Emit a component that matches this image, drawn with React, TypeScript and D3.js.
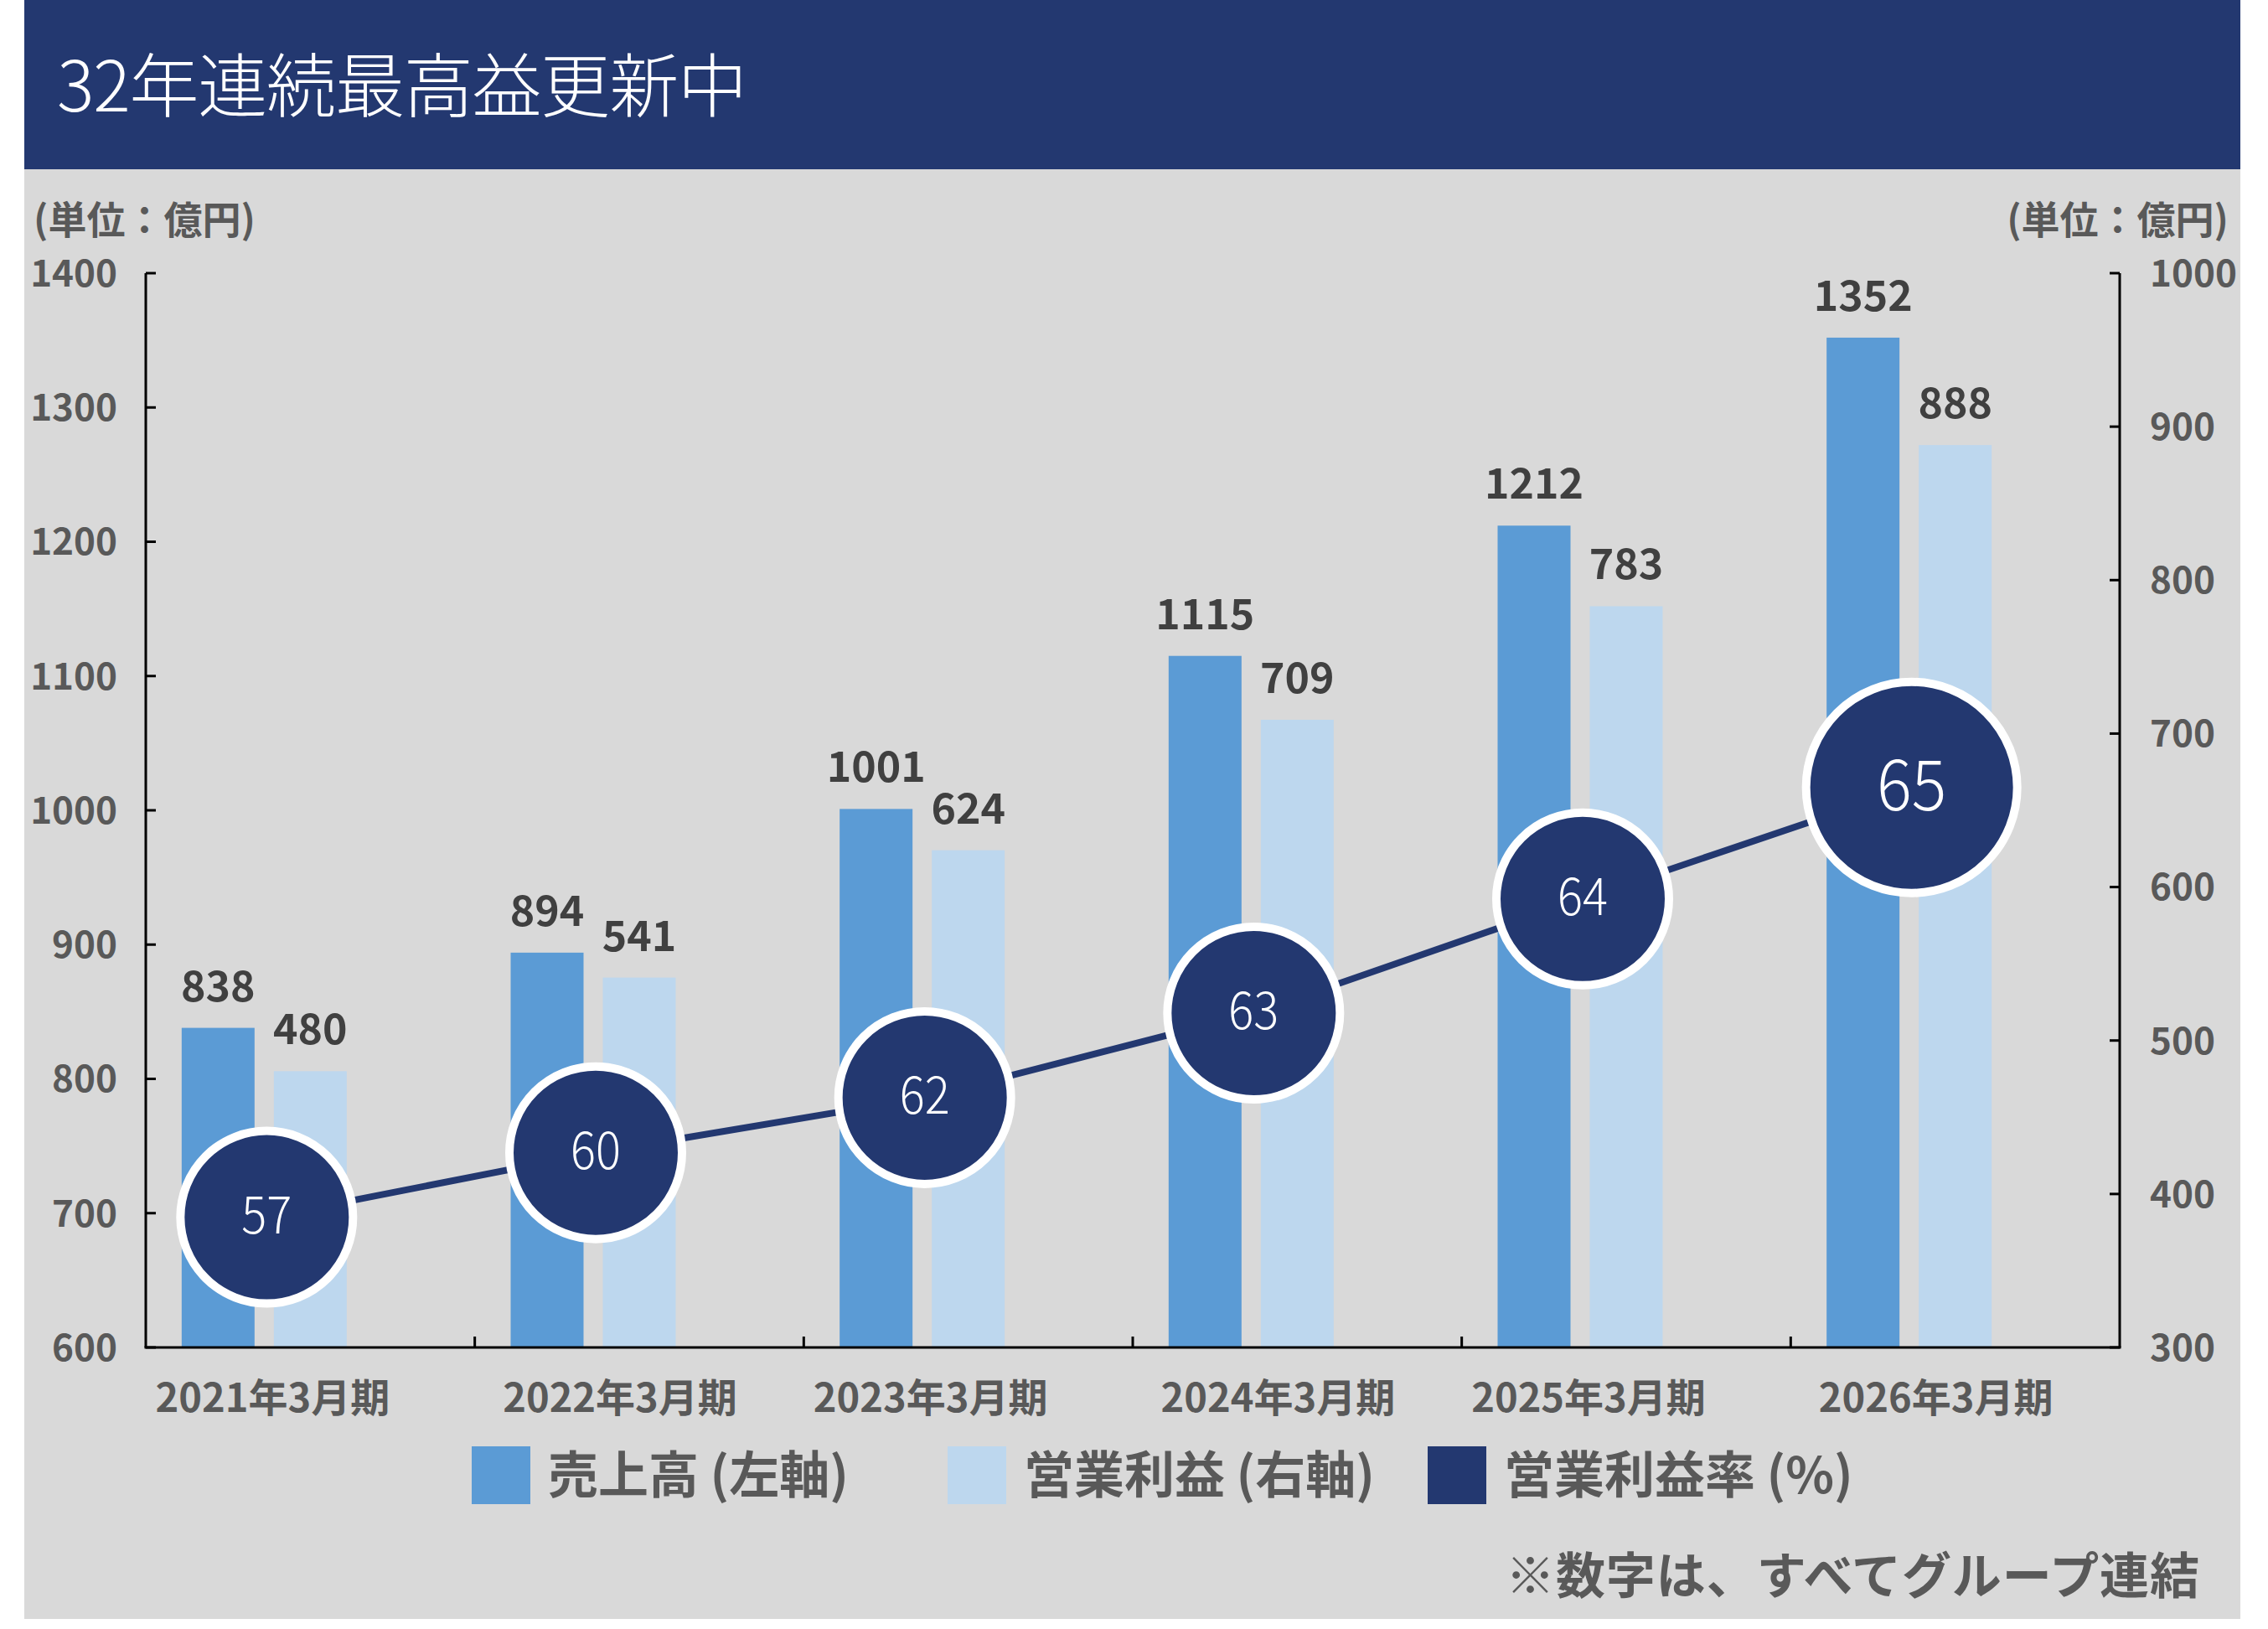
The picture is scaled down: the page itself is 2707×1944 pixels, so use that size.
import React from 'react';
import * as d3 from 'd3';

const categories = ['2021年3月期', '2022年3月期', '2023年3月期', '2024年3月期', '2025年3月期', '2026年3月期'];
const sales = [838, 894, 1001, 1115, 1212, 1352];
const operatingProfit = [480, 541, 624, 709, 783, 888];
const operatingMargin = [57, 60, 62, 63, 64, 65];
// height of each margin bubble (placed by hand in the source)
const marginLevel = [697, 745, 786, 849, 934, 1017];
const leftTicks = [600, 700, 800, 900, 1000, 1100, 1200, 1300, 1400];
const rightTicks = [300, 400, 500, 600, 700, 800, 900, 1000];
const legendLabels = ['売上高 (左軸)', '営業利益 (右軸)', '営業利益率 (%)'];

const W = 2707;
const H = 1944;
const FONT = '"Noto Sans CJK JP", "Noto Sans", sans-serif';
const NAVY = '#233870';
const BLUE = '#5b9bd5';
const LIGHT = '#bdd7ee';
const AXIS_TEXT = '#595959';
const VALUE_TEXT = '#404040';

const plot = { left: 174, right: 2530, top: 326, bottom: 1608 };

// digits sit on the baseline; this lifts them so their middle lands on y
const digitBase = (y: number, size: number) => y + size * 0.36;

const App = () => {
  const x = d3.scaleBand<string>().domain(categories).range([plot.left, plot.right]).padding(0);
  const yLeft = d3.scaleLinear().domain([600, 1400]).range([plot.bottom, plot.top]);
  const yRight = d3.scaleLinear().domain([300, 1000]).range([plot.bottom, plot.top]);

  const bw = x.bandwidth();
  const barW = 87;
  const gap = 23;
  const center = (c: string) => (x(c) as number) + bw / 2;

  const bubbles = categories.map((c, i) => ({
    cx: center(c) - 52,
    cy: yLeft(marginLevel[i]),
    value: operatingMargin[i],
    big: i === categories.length - 1,
  }));
  const line = d3.line<{ cx: number; cy: number }>().x(d => d.cx).y(d => d.cy);

  const legendSwatch = [BLUE, LIGHT, NAVY];
  const legendX = [563, 1131, 1704];

  return (
    <svg width={W} height={H} style={{ position: 'absolute', left: 0, top: 0 }} fontFamily={FONT}>
      <rect x={0} y={0} width={W} height={H} fill="#ffffff" />
      {/* header band */}
      <rect x={29} y={0} width={2645} height={202} fill={NAVY} />
      <text x={68} y={97} fill="#ffffff" fontSize={83} fontWeight={300} dominantBaseline="central"
        textLength={824} lengthAdjust="spacing">32年連続最高益更新中</text>
      {/* panel */}
      <rect x={29} y={202} width={2645} height={1730} fill="#d9d9d9" />

      <text x={40} y={digitBase(262, 46)} fill={AXIS_TEXT} fontSize={46} fontWeight={700}>(単位：億円)</text>
      <text x={2660} y={digitBase(262, 46)} fill={AXIS_TEXT} fontSize={46} fontWeight={700}
        textAnchor="end">(単位：億円)</text>

      {/* bars */}
      {categories.map((c, i) => (
        <g key={c}>
          <rect x={center(c) - barW / 2 - gap - barW} y={yLeft(sales[i])} width={barW}
            height={plot.bottom - yLeft(sales[i])} fill={BLUE} />
          <rect x={center(c) - barW / 2} y={yRight(operatingProfit[i])} width={barW}
            height={plot.bottom - yRight(operatingProfit[i])} fill={LIGHT} />
          <text x={center(c) - barW / 2 - gap - barW / 2} y={yLeft(sales[i]) - 32} fill={VALUE_TEXT}
            fontSize={50} fontWeight={700} textAnchor="middle">{sales[i]}</text>
          <text x={center(c)} y={yRight(operatingProfit[i]) - 32} fill={VALUE_TEXT}
            fontSize={50} fontWeight={700} textAnchor="middle">{operatingProfit[i]}</text>
        </g>
      ))}

      {/* axes */}
      <g stroke="#000000" strokeWidth={3}>
        <line x1={plot.left} x2={plot.left} y1={plot.top} y2={plot.bottom} />
        <line x1={plot.right} x2={plot.right} y1={plot.top} y2={plot.bottom} />
        <line x1={plot.left - 1.5} x2={plot.right + 1.5} y1={plot.bottom} y2={plot.bottom} />
        {leftTicks.map(t => (
          <line key={'l' + t} x1={plot.left} x2={plot.left + 12} y1={yLeft(t)} y2={yLeft(t)} />
        ))}
        {rightTicks.map(t => (
          <line key={'r' + t} x1={plot.right} x2={plot.right - 12} y1={yRight(t)} y2={yRight(t)} />
        ))}
        {categories.slice(1).map(c => (
          <line key={'x' + c} x1={x(c)} x2={x(c)} y1={plot.bottom} y2={plot.bottom - 13} />
        ))}
      </g>
      {leftTicks.map(t => (
        <text key={'lt' + t} x={140} y={digitBase(yLeft(t), 44)} fill={AXIS_TEXT} fontSize={44} fontWeight={700}
          textAnchor="end">{t}</text>
      ))}
      {rightTicks.map(t => (
        <text key={'rt' + t} x={2566} y={digitBase(yRight(t), 44)} fill={AXIS_TEXT} fontSize={44}
          fontWeight={700}>{t}</text>
      ))}
      {categories.map((c, i) => (
        <text key={'xl' + c} x={center(c) - (i % 2 === 0 ? 45 : 23)} y={1664} fill={AXIS_TEXT}
          fontSize={47} fontWeight={700} textAnchor="middle" dominantBaseline="central">{c}</text>
      ))}

      {/* operating margin */}
      <path d={line(bubbles) || ''} fill="none" stroke={NAVY} strokeWidth={8} />
      {bubbles.map(b => (
        <g key={'b' + b.value}>
          <circle cx={b.cx} cy={b.cy} r={b.big ? 126 : 103} fill={NAVY} stroke="#ffffff" strokeWidth={10} />
          <text x={b.cx} y={digitBase(b.cy - 3, b.big ? 84 : 62)} fill="#ffffff" fontSize={b.big ? 84 : 62}
            fontWeight={300} textAnchor="middle" textLength={b.big ? 83 : 60}
            lengthAdjust="spacingAndGlyphs">{b.value}</text>
        </g>
      ))}

      {/* legend */}
      {legendLabels.map((l, i) => (
        <g key={l}>
          <rect x={legendX[i]} y={1726} width={70} height={69} fill={legendSwatch[i]} />
          <text x={legendX[i] + 91} y={1755} fill={AXIS_TEXT} fontSize={60} fontWeight={700}
            dominantBaseline="central">{l}</text>
        </g>
      ))}

      <text x={2625} y={1876} fill={AXIS_TEXT} fontSize={59} fontWeight={700} textAnchor="end"
        dominantBaseline="central" textLength={828} lengthAdjust="spacing">※数字は、すべてグループ連結</text>
    </svg>
  );
};

export default App;
